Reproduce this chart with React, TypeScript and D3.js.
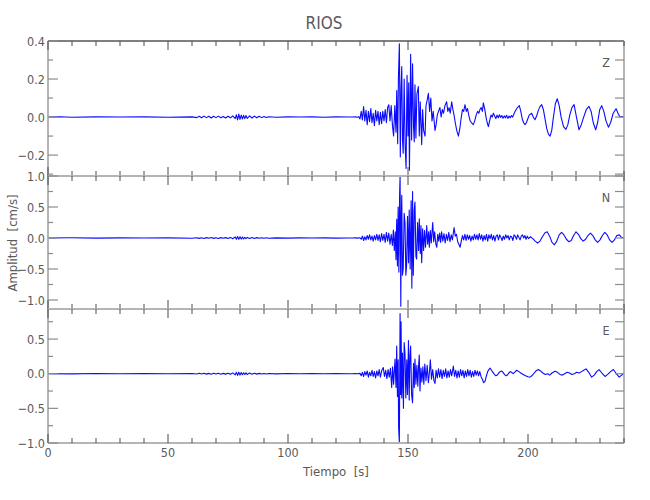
import React from "react";
import * as d3 from "d3";

// ---------- data ----------
const TITLE = "RIOS";
const X_LABEL = "Tiempo\u00a0\u00a0[s]";
const Y_LABEL = "Amplitud\u00a0\u00a0[cm/s]";
const X_DOMAIN: [number, number] = [0, 240];
const X_MAJOR_TICKS = [0, 50, 100, 150, 200];
const X_MINOR_STEP = 10;
const CHANNELS = ["Z", "N", "E"];

const Z_DOMAIN: [number, number] = [-0.31, 0.4];
const N_DOMAIN: [number, number] = [-1.145, 1.0];
const E_DOMAIN: [number, number] = [-1.0, 0.934];

const Z_MAJOR = [0.4, 0.2, 0.0, -0.2];
const Z_MINOR = [0.3, 0.1, -0.1, -0.3];
const N_MAJOR = [1.0, 0.5, 0.0, -0.5, -1.0];
const N_MINOR = [0.75, 0.25, -0.25, -0.75];
const E_MAJOR = [0.5, 0.0, -0.5, -1.0];
const E_MINOR = [0.75, 0.25, -0.25, -0.75];

// [time (s), amplitude (cm/s)]
const zPre = [[0,0],[5,0.002],[10,-0.001],[20,0.001],[30,0],[40,0.001],[50,-0.001],[60,0.001],[62,-0.003],[63,0.004],[64,-0.004],[65,0.005],[66,-0.003],[67,0.004],[68,-0.005],[69,0.004],[70,-0.003],[71,0.005],[72,-0.004],[73,0.003],[74,-0.005],[75,0.004],[76,-0.004],[77,0.006],[78,-0.008],[78.5,0.012],[79,-0.015],[79.5,0.016],[80,-0.012],[80.5,0.01],[81,-0.01],[81.5,0.009],[82,-0.008],[82.5,0.008],[83,-0.007],[84,0.006],[85,-0.005],[86,0.005],[87,-0.004],[88,0.004],[89,-0.003],[90,0.003],[91,-0.002],[92,0.002],[95,-0.001],[100,0.001],[105,0],[110,0.001],[115,-0.001],[120,0.001],[125,0]];
const zMain = [[127,0],[128,0.001],[129,-0.001],[129.5,0.002],[130,-0.01],[130.5,0.03],[131,-0.015],[131.5,0.055],[132,-0.02],[132.5,0.035],[133,-0.04],[133.5,0.03],[134,-0.025],[134.5,0.045],[135,-0.03],[135.5,0.02],[136,-0.045],[136.5,0.035],[137,-0.02],[137.5,0.03],[138,-0.04],[138.5,0.025],[139,-0.035],[139.5,0.03],[140,-0.02],[140.5,0.04],[141,-0.03],[141.5,0.05],[142,0.065],[142.5,-0.02],[143,0.06],[143.5,-0.04],[144,-0.1],[144.5,0.06],[145,-0.08],[145.3,0.14],[145.7,-0.14],[146,0.2],[146.4,0.385],[146.8,-0.21],[147.1,0.15],[147.4,0.265],[147.7,-0.12],[148,-0.19],[148.4,0.2],[148.8,-0.15],[149.2,-0.27],[149.6,0.22],[150,-0.1],[150.3,0.18],[150.6,-0.28],[151.1,0.33],[151.5,-0.12],[151.9,0.28],[152.3,-0.05],[152.6,-0.13],[152.9,0.17],[153.3,-0.11],[153.7,0.12],[154.3,0.16],[154.7,-0.1],[155.1,0.08],[155.7,-0.145],[156.1,0.04],[156.5,-0.07],[157.1,-0.1],[157.5,0.06],[158,0.09],[158.5,0.125],[159,0.03],[159.5,0.1],[160,-0.02],[160.5,0.03],[161.25,-0.07],[161.7,-0.04],[162.2,0.01],[162.7,0.03],[163.3,0.05],[163.8,0.0],[164.3,0.04],[164.8,0.02],[165.4,0.06],[166.1,0.08],[166.6,0.03],[167.1,0.05],[167.6,0.02],[168.2,0.08],[168.7,0.04],[169.2,0.01],[169.7,-0.03],[170.3,-0.07],[171,-0.1],[171.6,-0.06],[172.2,0.0],[172.7,0.04],[173.2,0.03],[173.75,0.065],[174.3,0.03],[174.8,0.045],[175.3,0.01],[175.9,-0.02],[176.5,-0.03],[177.2,-0.04],[177.8,-0.02],[178.4,0.01],[179,0.03],[179.5,0.02],[180,0.04],[180.5,0.05],[181,0.03],[181.4,0.075],[182,0.04],[182.5,0.0],[183,-0.03],[183.5,-0.05],[184,-0.02],[184.6,0.01],[185.1,0.0],[185.6,0.02],[186.1,0.005],[186.6,-0.008],[187.1,0.01],[187.6,-0.004],[188.1,0.012],[188.6,-0.002],[189.1,0.008],[189.6,-0.006],[190.1,0.006],[190.6,-0.004],[191.1,0.009],[191.6,-0.007],[192.1,0.005],[192.6,-0.004],[193.1,0.008],[193.6,0.0],[194.1,0.015],[194.6,0.03],[195.1,0.04],[195.6,0.05],[196.4,0.06],[197,0.03],[197.6,-0.01],[198.2,-0.03],[198.75,-0.04],[199.3,-0.03],[199.9,-0.01],[200.5,0.01],[201.5,0.02],[202.2,0.0],[202.9,-0.014],[203.6,0.005],[204.3,0.035],[205,0.055],[205.7,0.065],[206.4,0.04],[207.1,-0.01],[207.8,-0.06],[208.5,-0.09],[209.2,-0.1],[209.9,-0.07],[210.6,0.0],[211.4,0.07],[212.2,0.096],[213,0.06],[213.8,0.0],[214.8,-0.05],[215.8,-0.065],[216.6,-0.04],[217.4,0.01],[218.3,0.05],[219.2,0.065],[220.2,0.0],[221.25,-0.067],[222.2,-0.04],[223.2,0.0],[224.3,0.04],[225.4,0.056],[226.3,0.03],[227.2,-0.03],[228.2,-0.067],[229,-0.03],[229.9,0.04],[230.7,0.06],[231.6,0.03],[232.5,-0.02],[233.5,-0.053],[234.4,-0.03],[235.5,0.02],[236.7,0.044],[237.5,0.02],[238.3,0.0],[239.2,0.003],[240,0]];

const nPre = [[0,0],[10,0.003],[20,-0.002],[30,0.002],[40,0],[50,0.002],[60,-0.003],[62,0.005],[63,-0.006],[64,0.005],[65,-0.007],[66,0.006],[67,-0.005],[68,0.007],[69,-0.006],[70,0.005],[71,-0.007],[72,0.006],[73,-0.005],[74,0.006],[75,-0.008],[76,0.01],[77,-0.012],[78,0.018],[78.5,-0.02],[79,0.025],[79.5,-0.022],[80,0.02],[80.5,-0.018],[81,0.016],[81.5,-0.015],[82,0.012],[82.5,-0.012],[83,0.01],[84,-0.009],[85,0.008],[86,-0.007],[87,0.006],[88,-0.005],[89,0.005],[90,-0.004],[91,0.003],[92,-0.003],[95,0.002],[100,-0.002],[105,0.002],[110,0],[115,0.002],[120,-0.002],[125,0.001]];
const nMain = [[127,0],[128,0.002],[129,-0.002],[130,0.003],[130.5,-0.02],[131,0.03],[131.5,-0.04],[132,0.02],[132.5,-0.03],[133,0.04],[133.5,-0.02],[134,0.05],[134.5,-0.03],[135,0.03],[135.5,-0.05],[136,0.04],[136.5,-0.03],[137,0.06],[137.5,-0.04],[138,0.05],[138.5,-0.06],[139,0.07],[139.5,-0.04],[140,0.06],[140.5,-0.07],[141,0.09],[141.5,-0.05],[142,0.08],[142.5,-0.1],[143,0.06],[143.5,-0.12],[143.9,0.13],[144.3,-0.2],[144.7,0.1],[145,-0.35],[145.3,0.3],[145.6,-0.45],[145.9,0.5],[146.2,-0.55],[146.5,0.7],[146.7,1.0],[147,-1.1],[147.2,0.3],[147.4,0.69],[147.7,-0.6],[148,-0.5],[148.4,0.4],[148.75,0.25],[149.1,-0.6],[149.4,-0.45],[149.8,0.35],[150.2,-0.4],[150.5,0.45],[150.9,-0.5],[151.3,0.6],[151.6,-0.81],[151.9,0.75],[152.2,-0.6],[152.6,0.45],[152.9,0.58],[153.3,-0.3],[153.6,-0.34],[154,0.25],[154.4,-0.2],[154.7,0.31],[155.1,-0.25],[155.4,0.2],[155.7,-0.4],[156.1,0.15],[156.5,-0.2],[156.9,0.12],[157.3,-0.15],[157.8,0.2],[158.2,-0.1],[158.6,0.1],[158.9,-0.15],[159.3,0.12],[159.7,-0.08],[160.3,0.25],[160.7,-0.06],[161.1,0.1],[161.6,-0.1],[162,-0.15],[162.4,0.06],[162.8,-0.05],[163.2,0.08],[163.6,-0.07],[164,0.1],[164.5,-0.05],[165,0.07],[165.5,-0.08],[166,0.06],[166.5,-0.04],[167,0.09],[167.5,-0.06],[168,0.05],[168.5,-0.03],[169.2,0.17],[169.7,0.03],[170.2,0.06],[170.7,-0.06],[171.2,-0.1],[171.7,-0.15],[172.2,-0.05],[172.7,0.04],[173.2,-0.03],[173.7,0.06],[174.2,-0.04],[174.7,0.05],[175.2,-0.02],[175.7,0.04],[176.2,-0.05],[176.7,0.03],[177.2,-0.03],[177.7,0.06],[178.2,-0.02],[178.7,0.05],[179.2,-0.03],[179.7,0.07],[180.2,-0.02],[180.7,0.05],[181.2,-0.05],[181.7,0.04],[182.2,-0.03],[182.7,0.06],[183.2,-0.05],[183.7,0.05],[184.2,-0.01],[184.7,0.06],[185.2,-0.03],[185.7,0.04],[186.2,-0.05],[186.7,0.03],[187.2,0.05],[187.7,-0.03],[188.2,0.05],[188.7,0.01],[189.2,-0.04],[189.7,0.03],[190.2,-0.02],[190.7,0.05],[191.2,0.0],[191.7,0.04],[192.2,-0.03],[192.7,0.03],[193.2,0.02],[193.7,-0.04],[194.2,0.05],[194.7,0.03],[195.2,-0.02],[195.7,0.05],[196.2,0.01],[196.7,-0.03],[197.2,0.03],[197.7,0.05],[198.2,0.0],[198.7,0.04],[199.2,-0.02],[199.7,0.03],[200.2,-0.01],[201,0.02],[202,-0.01],[203,-0.05],[204,-0.08],[205,-0.05],[206,0.02],[207,0.08],[208,0.1],[209,0.03],[210,-0.07],[211,-0.11],[212,-0.05],[213,0.05],[214,0.09],[215,0.05],[216,-0.02],[217,-0.06],[218,-0.04],[219,0.04],[220,0.1],[221,0.06],[222,-0.01],[223,-0.05],[224,-0.02],[225,0.04],[226,0.08],[227,0.04],[228,-0.03],[229,-0.07],[230,-0.03],[231,0.04],[232,0.09],[233,0.05],[234,-0.03],[235,-0.07],[236,-0.03],[237,0.04],[238,0.05],[239,0.01],[240,0]];

const ePre = [[0,0],[10,-0.002],[20,0.003],[30,-0.001],[40,0.002],[50,0],[60,0.003],[62,-0.005],[63,0.006],[64,-0.005],[65,0.007],[66,-0.006],[67,0.005],[68,-0.007],[69,0.006],[70,-0.005],[71,0.006],[72,-0.007],[73,0.005],[74,-0.006],[75,0.007],[76,-0.009],[77,0.012],[78,-0.016],[78.5,0.02],[79,-0.024],[79.5,0.022],[80,-0.02],[80.5,0.017],[81,-0.015],[81.5,0.014],[82,-0.012],[82.5,0.011],[83,-0.01],[84,0.009],[85,-0.008],[86,0.007],[87,-0.006],[88,0.005],[89,-0.005],[90,0.004],[91,-0.003],[92,0.003],[95,-0.002],[100,0.002],[105,-0.001],[110,0.002],[115,0],[120,0.002],[125,-0.001]];
const eMain = [[127,0],[128,0.001],[129,-0.001],[130,0.005],[130.5,-0.03],[131,0.02],[131.5,-0.04],[132,0.03],[132.5,-0.02],[133,0.04],[133.5,-0.05],[134,0.02],[134.5,-0.03],[135,0.05],[135.5,-0.04],[136,0.03],[136.5,-0.06],[137,0.04],[137.5,-0.03],[138,0.06],[138.5,-0.05],[139,0.04],[139.7,0.09],[140.2,-0.04],[140.7,0.05],[141.2,-0.07],[141.7,0.06],[142.2,-0.05],[142.7,0.08],[143.2,-0.2],[143.6,0.1],[144,-0.15],[144.6,0.21],[145,-0.2],[145.3,0.4],[145.6,-0.33],[145.9,0.2],[146.1,-0.79],[146.4,-1.0],[146.7,0.87],[146.9,-0.3],[147.1,0.75],[147.4,-0.35],[147.7,0.3],[148.1,-0.5],[148.4,0.45],[148.75,0.3],[149.1,-0.35],[149.5,0.2],[149.8,-0.3],[150.2,0.48],[150.5,-0.38],[150.8,0.25],[151.1,0.4],[151.5,-0.3],[151.9,-0.42],[152.3,0.15],[152.6,-0.2],[152.9,0.21],[153.3,-0.15],[153.7,0.12],[154.1,-0.18],[154.4,0.1],[154.7,0.27],[155,-0.25],[155.4,0.08],[155.8,-0.12],[156.2,0.1],[156.6,-0.15],[157,0.14],[157.5,-0.1],[158,0.12],[158.5,-0.13],[159,0.05],[159.3,0.2],[159.8,-0.08],[160.3,0.06],[160.8,-0.1],[161.25,-0.14],[161.7,0.05],[162.2,-0.06],[162.7,0.07],[163.2,-0.05],[163.7,0.06],[164.2,-0.07],[164.7,0.05],[165.2,-0.04],[165.7,0.07],[166.2,-0.06],[166.7,0.04],[167.2,-0.05],[167.7,0.06],[168.2,-0.03],[168.9,0.11],[169.4,-0.04],[169.9,0.05],[170.4,-0.06],[170.9,0.04],[171.4,-0.05],[171.9,0.06],[172.4,-0.03],[172.9,0.05],[173.4,-0.06],[173.9,0.04],[174.4,-0.04],[174.9,0.06],[175.4,-0.03],[175.9,0.05],[176.4,-0.05],[176.9,0.03],[177.4,-0.04],[177.9,0.05],[178.4,-0.02],[178.9,0.04],[179.4,-0.03],[179.9,0.03],[180.5,-0.05],[181,-0.08],[181.5,-0.13],[182.1,-0.11],[182.6,-0.04],[183.2,0.03],[183.7,0.06],[184.2,0.08],[184.8,0.05],[185.4,0.02],[186,-0.01],[186.6,-0.03],[187.2,-0.02],[187.8,0.01],[188.4,0.03],[189,0.04],[189.6,0.02],[190.2,-0.01],[190.8,-0.03],[191.4,-0.02],[192,0.01],[192.6,0.03],[193.2,0.02],[193.8,0.0],[194.4,0.02],[195.3,0.05],[196.2,0.03],[197,0.01],[198,-0.01],[199,-0.03],[200,-0.045],[200.8,-0.05],[201.6,-0.03],[202.4,0.0],[203.3,0.04],[204.3,0.06],[205.2,0.04],[206.2,0.01],[207.2,-0.01],[208.2,0.0],[209,-0.02],[210,0.01],[211.25,0.035],[212.3,0.02],[213.3,-0.01],[214.3,-0.02],[215.3,0.0],[216.3,0.02],[217.3,0.01],[218.3,-0.01],[219.3,0.0],[220.3,0.02],[221.3,0.01],[222.3,0.03],[223.2,0.05],[224.2,0.07],[225.3,0.02],[226.5,-0.05],[227.6,-0.02],[228.6,0.03],[229.6,0.06],[230.8,0.01],[232.1,-0.04],[233.2,-0.01],[234.4,0.03],[235.6,0.06],[236.8,0.0],[238,-0.05],[239,-0.02],[240,0.0]];

// ---------- layout ----------
const W = 650;
const H = 500;
const LEFT = 48;
const RIGHT = 624;
const PANELS = [
  { top: 41, bottom: 176, domain: Z_DOMAIN, major: Z_MAJOR, minor: Z_MINOR, data: [...zPre, ...zMain] },
  { top: 176, bottom: 309, domain: N_DOMAIN, major: N_MAJOR, minor: N_MINOR, data: [...nPre, ...nMain] },
  { top: 309, bottom: 443, domain: E_DOMAIN, major: E_MAJOR, minor: E_MINOR, data: [...ePre, ...eMain] },
];

const FONT = "'DejaVu Sans Condensed', 'Liberation Sans Narrow', 'DejaVu Sans', sans-serif";
const TEXT = "#5a5a5a";
const FRAME = "#b4b4b4";
const TICK_X = "#4a4a4a";
const TICK_Y = "#8c8c8c";
const TRACE = "#0a0aff";

export default function App() {
  const x = d3.scaleLinear().domain(X_DOMAIN).range([LEFT, RIGHT]);
  const xMinor = d3.range(X_DOMAIN[0], X_DOMAIN[1] + 0.001, X_MINOR_STEP);
  const fmt = d3.format(".1f");

  return (
    <svg
      width={W}
      height={H}
      style={{ position: "absolute", left: 0, top: 0, background: "#fff" }}
      fontFamily={FONT}
    >
      <rect width={W} height={H} fill="#fff" />
      <text x={324} y={29} textAnchor="middle" fontSize={17} fill={TEXT} style={{ fontStretch: "condensed" }}>
        {TITLE}
      </text>
      {PANELS.map((p, i) => {
        const y = d3.scaleLinear().domain(p.domain).range([p.bottom, p.top]);
        const line = d3
          .line<number[]>()
          .x((d) => x(d[0]))
          .y((d) => y(d[1]));
        return (
          <g key={i}>
            {/* trace */}
            <path d={line(p.data as number[][]) || ""} fill="none" stroke={TRACE} strokeWidth={1.1} strokeLinejoin="round" />
            {/* frame */}
            <line x1={LEFT} x2={LEFT} y1={p.top} y2={p.bottom} stroke={FRAME} strokeWidth={2} />
            <line x1={RIGHT} x2={RIGHT} y1={p.top} y2={p.bottom} stroke={FRAME} strokeWidth={2} />
            <line x1={LEFT} x2={RIGHT} y1={p.top} y2={p.top} stroke={i === 0 ? "#7f7f7f" : FRAME} strokeWidth={2} />
            <line x1={LEFT} x2={RIGHT} y1={p.bottom} y2={p.bottom} stroke={FRAME} strokeWidth={2} />
            {/* x ticks top and bottom */}
            {xMinor.map((t) => {
              const major = X_MAJOR_TICKS.includes(t);
              const len = major ? 9 : 5;
              return (
                <g key={"xt" + t}>
                  <line x1={x(t)} x2={x(t)} y1={p.top} y2={p.top + len} stroke={TICK_X} strokeWidth={1} />
                  <line x1={x(t)} x2={x(t)} y1={p.bottom} y2={p.bottom - len} stroke={TICK_X} strokeWidth={1} />
                </g>
              );
            })}
            {/* y ticks */}
            {p.major.map((v) => (
              <g key={"ym" + v}>
                <line x1={LEFT} x2={LEFT + 10} y1={y(v)} y2={y(v)} stroke={TICK_Y} strokeWidth={1.2} />
                <line x1={RIGHT} x2={RIGHT - 9} y1={y(v)} y2={y(v)} stroke={TICK_Y} strokeWidth={1.2} />
                <text x={LEFT - 3} y={y(v) + 4.5} textAnchor="end" fontSize={12.5} fill={TEXT} style={{ fontStretch: "condensed" }}>
                  {fmt(v)}
                </text>
              </g>
            ))}
            {p.minor.map((v) => (
              <g key={"yn" + v}>
                <line x1={LEFT} x2={LEFT + 5} y1={y(v)} y2={y(v)} stroke={TICK_Y} strokeWidth={1.2} />
                <line x1={RIGHT} x2={RIGHT - 9} y1={y(v)} y2={y(v)} stroke={TICK_Y} strokeWidth={1.2} />
              </g>
            ))}
            <text x={606} y={p.top + 26} textAnchor="middle" fontSize={12.5} fill={TEXT} style={{ fontStretch: "condensed" }}>
              {CHANNELS[i]}
            </text>
          </g>
        );
      })}
      {/* x tick labels */}
      {X_MAJOR_TICKS.map((t) => (
        <text key={"xl" + t} x={x(t)} y={457} textAnchor="middle" fontSize={12.5} fill={TEXT} style={{ fontStretch: "condensed" }}>
          {t}
        </text>
      ))}
      <text x={336} y={476} textAnchor="middle" fontSize={13} fill={TEXT} style={{ fontStretch: "condensed" }}>
        {X_LABEL}
      </text>
      <text
        transform={`translate(17,243) rotate(-90)`}
        textAnchor="middle"
        fontSize={13}
        fill={TEXT}
        style={{ fontStretch: "condensed" }}
      >
        {Y_LABEL}
      </text>
    </svg>
  );
}
